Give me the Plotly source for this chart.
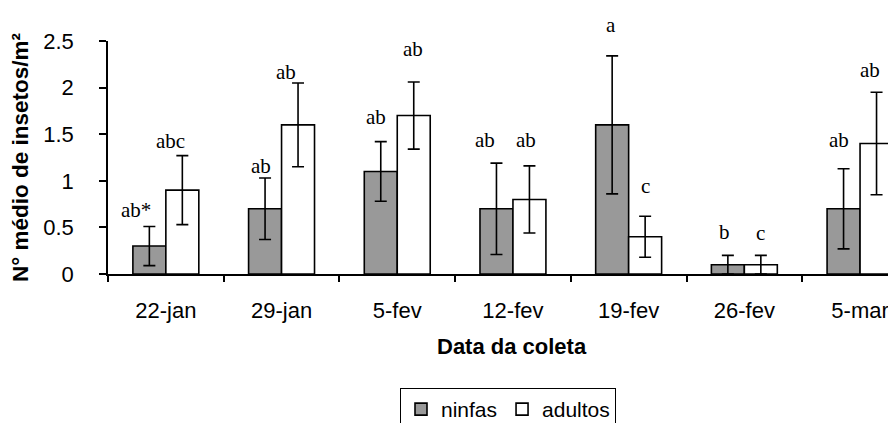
import plotly.graph_objects as go

datas = ["22-jan", "29-jan", "5-fev", "12-fev", "19-fev", "26-fev", "5-mar"]
ninfas = [0.3, 0.7, 1.1, 0.7, 1.6, 0.1, 0.7]
adultos = [0.9, 1.6, 1.7, 0.8, 0.4, 0.1, 1.4]
erro_ninfas = [0.21, 0.33, 0.32, 0.49, 0.74, 0.1, 0.43]
erro_adultos = [0.37, 0.45, 0.36, 0.36, 0.22, 0.1, 0.55]
letras_ninfas = ["ab*", "ab", "ab", "ab", "a", "b", "ab"]
letras_adultos = ["abc", "ab", "ab", "ab", "c", "c", "ab"]
# label offsets (pixels) from the top of each error bar, as placed in the original
sobe_ninfas = [16, 12, 25, 23, 31, 23, 29]
sobe_adultos = [15, 11, 33, 26, 30, 22, 22]
desloc_ninfas = [-13, -4, -5, -11, -1, -3, -5]
desloc_adultos = [-12, -12, -1, -3, 0, 0, -7]

SANS = "Liberation Sans, Arial, sans-serif"
SERIF = "Liberation Serif, Times New Roman, serif"
BARGAP = 0.43
half = (1 - BARGAP) / 4

fig = go.Figure()
fig.add_trace(go.Bar(
    x=datas, y=ninfas, name="ninfas",
    marker=dict(color="#999999", line=dict(color="black", width=1.6)),
    error_y=dict(type="data", array=erro_ninfas, color="black", thickness=1.6, width=6),
))
fig.add_trace(go.Bar(
    x=datas, y=adultos, name="adultos",
    marker=dict(color="white", line=dict(color="black", width=1.6)),
    error_y=dict(type="data", array=erro_adultos, color="black", thickness=1.6, width=6),
))

for i in range(len(datas)):
    fig.add_annotation(x=i - half, y=ninfas[i] + erro_ninfas[i], text=letras_ninfas[i],
                       showarrow=False, xshift=desloc_ninfas[i], yshift=sobe_ninfas[i],
                       yanchor="middle",
                       font=dict(family=SERIF, size=21, color="black"))
    fig.add_annotation(x=i + half, y=adultos[i] + erro_adultos[i], text=letras_adultos[i],
                       showarrow=False, xshift=desloc_adultos[i], yshift=sobe_adultos[i],
                       yanchor="middle",
                       font=dict(family=SERIF, size=21, color="black"))

W, H = 896, 423
L, R, T, B = 100, 0, 33, 148
pw = W - L - R
ph = H - T - B
cat_px = 115.7
xmax = -0.5 + pw / cat_px

fig.add_annotation(xref="paper", yref="paper", x=(504 - L) / pw, y=(275 - 350) / ph,
                   text="<b>Data da coleta</b>", showarrow=False, yanchor="middle",
                   font=dict(family=SANS, size=22, color="black"))

fig.update_layout(
    width=W, height=H,
    margin=dict(l=L, r=R, t=T, b=B),
    paper_bgcolor="white", plot_bgcolor="white",
    barmode="group", bargap=BARGAP, bargroupgap=0,
    font=dict(family=SANS, size=22, color="black"),
    showlegend=True,
    legend=dict(orientation="h", x=(392 - L) / pw, xanchor="left",
                y=(275 - 394) / ph, yanchor="top",
                bordercolor="black", borderwidth=1, bgcolor="white",
                font=dict(family=SANS, size=21, color="black"),
                itemwidth=30, tracegroupgap=0),
    xaxis=dict(type="category", range=[-0.5, xmax], showline=True, linecolor="black",
               linewidth=1.6, ticks="outside", tickson="boundaries", ticklen=6,
               tickcolor="black", tickwidth=1.5, showgrid=False, zeroline=False,
               ticklabelstandoff=16,
               tickfont=dict(family=SANS, size=22, color="black")),
    yaxis=dict(range=[0, 2.5], dtick=0.5, tick0=0, showline=True, linecolor="black",
               linewidth=1.6, ticks="outside", ticklen=7, tickcolor="black",
               tickwidth=1.5, showgrid=False, zeroline=False,
               ticklabelstandoff=21,
               tickfont=dict(family=SANS, size=22, color="black"),
               title=dict(text="<b>N° médio de insetos/m²</b>", standoff=9,
                          font=dict(family=SANS, size=22.5, color="black"))),
)

fig.write_html("out.html")
